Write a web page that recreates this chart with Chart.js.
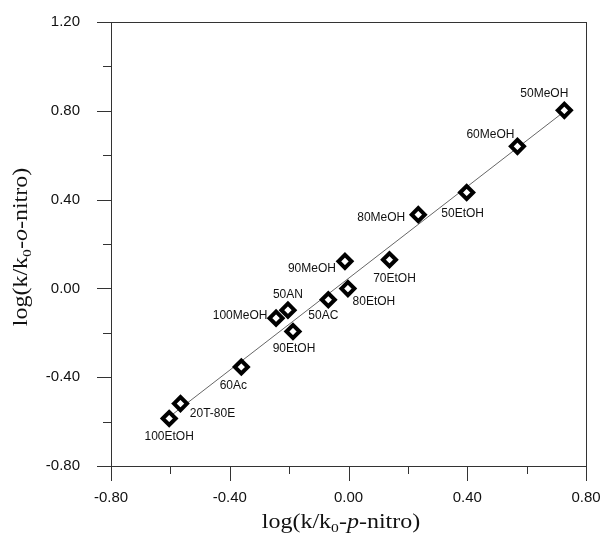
<!DOCTYPE html>
<html>
<head>
<meta charset="utf-8">
<script src="https://cdn.jsdelivr.net/npm/chart.js@4.4.1/dist/chart.umd.min.js"></script>
<style>
  html, body { margin: 0; padding: 0; background: #fff; }
  #wrap { width: 600px; height: 536px; }
</style>
</head>
<body>
<div id="wrap"><canvas id="chart" width="600" height="536"></canvas></div>
<script>
// solvent systems and their log(k/k0) values
const solvents = ['100EtOH', '20T-80E', '60Ac', '100MeOH', '50AN', '90EtOH', '50AC',
                  '80EtOH', '90MeOH', '70EtOH', '80MeOH', '50EtOH', '60MeOH', '50MeOH'];
const pNitro = [-0.604, -0.566, -0.361, -0.244, -0.204, -0.187, -0.068,
                -0.002, -0.012, 0.138, 0.235, 0.398, 0.569, 0.727];
const oNitro = [-0.586, -0.519, -0.354, -0.134, -0.098, -0.194, -0.051,
                -0.001, 0.122, 0.129, 0.332, 0.432, 0.640, 0.802];

// regression line end points
const fitX = [-0.60, 0.73];
const fitY = [-0.575, 0.80];

const xTicks = [-0.8, -0.4, 0, 0.4, 0.8];
const yTicks = [-0.8, -0.4, 0, 0.4, 0.8, 1.2];

// where each label sits relative to its marker (px)
const labelOffsets = {
    '100EtOH': [0, 18], '20T-80E': [32, 10], '60Ac': [-8, 19], '100MeOH': [-36, -2],
    '50AN': [0, -15], '90EtOH': [1, 17], '50AC': [-5, 16], '80EtOH': [26, 13],
    '90MeOH': [-33, 7], '70EtOH': [5, 19], '80MeOH': [-37, 3], '50EtOH': [-4, 21],
    '60MeOH': [-27, -12], '50MeOH': [-20, -17]
};

const ink = '#111';
const serif = '"Liberation Serif", "Times New Roman", serif';
const sans = '"Liberation Sans", Arial, sans-serif';

function drawRich(ctx, runs, cx, cy, angle) {
    ctx.save();
    ctx.translate(cx, cy);
    ctx.rotate(angle);
    ctx.scale(1.2, 1);
    ctx.fillStyle = ink;
    ctx.textAlign = 'left';
    ctx.textBaseline = 'alphabetic';
    let total = 0;
    runs.forEach(r => { ctx.font = r.font; total += ctx.measureText(r.text).width; });
    let x = -total / 2;
    runs.forEach(r => {
        ctx.font = r.font;
        ctx.fillText(r.text, x, 6 + (r.dy || 0));
        x += ctx.measureText(r.text).width;
    });
    ctx.restore();
}

const decor = {
    id: 'decor',
    afterDraw(chart) {
        const ctx = chart.ctx;
        const a = chart.chartArea;
        const xs = chart.scales.x, ys = chart.scales.y;

        ctx.save();
        ctx.strokeStyle = '#333';
        ctx.lineWidth = 1;
        ctx.strokeRect(a.left + 0.5, a.top + 0.5, a.right - a.left, a.bottom - a.top);

        // tick marks, major at labels and minor half way between
        ctx.beginPath();
        xTicks.forEach((v, i) => {
            const px = Math.round(xs.getPixelForValue(v)) + 0.5;
            ctx.moveTo(px, a.bottom);
            ctx.lineTo(px, a.bottom + 15);
            if (i < xTicks.length - 1) {
                const mx = Math.round(xs.getPixelForValue((v + xTicks[i + 1]) / 2)) + 0.5;
                ctx.moveTo(mx, a.bottom);
                ctx.lineTo(mx, a.bottom + 8);
            }
        });
        yTicks.forEach((v, i) => {
            const py = Math.round(ys.getPixelForValue(v)) + 0.5;
            ctx.moveTo(a.left, py);
            ctx.lineTo(a.left - 14, py);
            if (i < yTicks.length - 1) {
                const my = Math.round(ys.getPixelForValue((v + yTicks[i + 1]) / 2)) + 0.5;
                ctx.moveTo(a.left, my);
                ctx.lineTo(a.left - 8, my);
            }
        });
        ctx.stroke();
        ctx.restore();

        const big = '20px ' + serif;
        const sub = '13px ' + serif;
        const ital = 'italic 20px ' + serif;
        drawRich(ctx, [
            { text: 'log(k/k', font: big },
            { text: '0', font: sub, dy: 4 },
            { text: '-', font: big },
            { text: 'p', font: ital },
            { text: '-nitro)', font: big }
        ], 341, 522, 0);
        drawRich(ctx, [
            { text: 'log(k/k', font: big },
            { text: '0', font: sub, dy: 4 },
            { text: '-', font: big },
            { text: 'o', font: ital },
            { text: '-nitro)', font: big }
        ], 21, 247, -Math.PI / 2);
    },
    afterDatasetsDraw(chart) {
        const ctx = chart.ctx;
        const meta = chart.getDatasetMeta(1);
        ctx.save();
        ctx.fillStyle = ink;
        ctx.font = '12px ' + sans;
        ctx.textAlign = 'center';
        ctx.textBaseline = 'middle';
        meta.data.forEach((pt, i) => {
            const off = labelOffsets[solvents[i]] || [0, 16];
            ctx.fillText(solvents[i], pt.x + off[0], pt.y + off[1]);
        });
        ctx.restore();
    }
};

new Chart(document.getElementById('chart'), {
    type: 'scatter',
    data: {
        datasets: [{
            type: 'line',
            label: 'fit',
            data: fitX.map((x, i) => ({ x: x, y: fitY[i] })),
            borderColor: '#666',
            borderWidth: 1,
            pointRadius: 0,
            fill: false,
            order: 2
        }, {
            label: 'solvents',
            data: pNitro.map((x, i) => ({ x: x, y: oNitro[i] })),
            pointStyle: 'rectRot',
            pointRadius: 6.5,
            pointBorderWidth: 4,
            pointBorderColor: '#000',
            pointBackgroundColor: '#fff',
            order: 1
        }]
    },
    options: {
        responsive: false,
        animation: false,
        layout: { padding: { top: 22, right: 14, left: 0, bottom: 0 } },
        plugins: {
            legend: { display: false },
            tooltip: { enabled: false }
        },
        scales: {
            x: {
                min: -0.8,
                max: 0.8,
                afterBuildTicks: s => { s.ticks = xTicks.map(v => ({ value: v })); },
                afterFit: s => { s.height = 70; s.paddingLeft = 0; s.paddingRight = 0; },
                grid: { display: false },
                border: { display: false },
                ticks: {
                    color: ink,
                    font: { family: sans, size: 15 },
                    padding: 15,
                    maxRotation: 0,
                    callback: v => v.toFixed(2)
                }
            },
            y: {
                min: -0.8,
                max: 1.2,
                afterBuildTicks: s => { s.ticks = yTicks.map(v => ({ value: v })); },
                afterFit: s => { s.width = 111; s.paddingTop = 0; s.paddingBottom = 0; },
                grid: { display: false },
                border: { display: false },
                ticks: {
                    color: ink,
                    font: { family: sans, size: 15 },
                    padding: 23,
                    callback: v => v.toFixed(2)
                }
            }
        }
    },
    plugins: [decor]
});
</script>
</body>
</html>
